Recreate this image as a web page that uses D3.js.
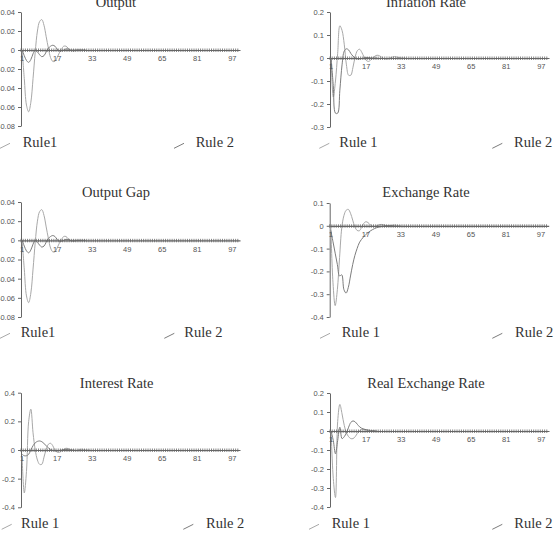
<!DOCTYPE html>
<meta charset="utf-8">
<style>

body {
  margin: 0;
  background: #fff;
}

.axis text {
  font: 7.5px "Liberation Sans", Arial, sans-serif;
  fill: #555;
}

.axis path, .axis line {
  stroke: #666;
}

.title, .legend {
  font-family: "Liberation Serif", "Times New Roman", serif;
  font-size: 14.5px;
  fill: #333;
}

.line {
  fill: none;
  stroke-width: 1px;
}

</style>
<svg width="559" height="535"></svg>
<script src="https://d3js.org/d3.v7.min.js"></script>
<script>

// periods on the category axis and the labelled ones
var periods = d3.range(1, 101);
var xTickLabels = [1, 17, 33, 49, 65, 81, 97];

// y tick values per panel
var outputTicks   = [0.04, 0.02, 0, -0.02, -0.04, -0.06, -0.08];
var gapTicks      = [0.04, 0.02, 0, -0.02, -0.04, -0.06, -0.08];
var inflTicks     = [0.2, 0.1, 0, -0.1, -0.2, -0.3];
var exchTicks     = [0.1, 0, -0.1, -0.2, -0.3, -0.4];
var interestTicks = [0.4, 0.2, 0, -0.2, -0.4];
var rerTicks      = [0.2, 0.1, 0, -0.1, -0.2, -0.3, -0.4];

// impulse responses (later periods sit on zero)
var outputRule1 = [0, -0.03, -0.058, -0.065, -0.055, -0.03, -0.002, 0.02, 0.03, 0.032, 0.026, 0.014, 0.002, -0.008, -0.012, -0.012, -0.008, -0.003, 0.001, 0.004, 0.004, 0.002, 0, -0.001, -0.001, 0, 0, 0, 0, 0];
var outputRule2 = [0, -0.006, -0.011, -0.013, -0.01, -0.004, 0, -0.002, -0.005, -0.007, -0.006, -0.002, 0.002, 0.004, 0.005, 0.004, 0.001, -0.001, -0.001, 0, 0.001, 0.001, 0, 0, 0, 0, 0, 0, 0, 0];

var gapRule1 = [0, -0.03, -0.058, -0.065, -0.055, -0.03, -0.002, 0.02, 0.03, 0.032, 0.026, 0.014, 0.002, -0.008, -0.012, -0.012, -0.008, -0.003, 0.001, 0.004, 0.004, 0.002, 0, -0.001, -0.001, 0, 0, 0, 0, 0];
var gapRule2 = [0, -0.006, -0.011, -0.013, -0.01, -0.004, 0, -0.002, -0.005, -0.007, -0.006, -0.002, 0.002, 0.004, 0.005, 0.004, 0.001, -0.001, -0.001, 0, 0.001, 0.001, 0, 0, 0, 0, 0, 0, 0, 0];

var inflRule1 = [0, -0.17, -0.1, 0.02, 0.14, 0.12, 0.06, -0.03, -0.075, -0.075, -0.04, 0.005, 0.032, 0.038, 0.025, 0.005, -0.01, -0.015, -0.01, 0, 0.008, 0.012, 0.01, 0.004, -0.002, -0.004, -0.003, 0, 0.004, 0.006, 0.004, 0.002, 0, 0, 0];
var inflRule2 = [0, -0.12, -0.24, -0.24, -0.14, -0.03, 0.03, 0.04, 0.035, 0.02, 0.008, 0, -0.004, -0.004, -0.002, 0, 0.002, 0.002, 0.001, 0, 0, 0];

var exchRule1 = [0, -0.25, -0.35, -0.28, -0.14, -0.01, 0.045, 0.068, 0.072, 0.055, 0.025, -0.005, -0.02, -0.022, -0.008, 0.01, 0.018, 0.014, 0.005, -0.002, -0.004, 0, 0.004, 0.006, 0.005, 0.002, 0, 0, 0.002, 0.003, 0.002, 0, 0];
var exchRule2 = [-0.02, -0.07, -0.12, -0.17, -0.22, -0.215, -0.28, -0.295, -0.27, -0.22, -0.17, -0.13, -0.1, -0.075, -0.06, -0.048, -0.038, -0.03, -0.023, -0.017, -0.012, -0.008, -0.005, -0.003, -0.001, 0, 0, 0, 0, 0];

var interestRule1 = [-0.05, -0.3, -0.15, 0.2, 0.285, 0.12, 0, -0.07, -0.1, -0.1, -0.05, 0.005, 0.04, 0.047, 0.03, 0, -0.015, -0.016, -0.008, 0.004, 0.012, 0.01, 0.004, -0.002, -0.004, -0.002, 0.002, 0.005, 0.004, 0.001, 0, 0];
var interestRule2 = [-0.03, -0.04, -0.04, -0.03, 0, 0.03, 0.05, 0.06, 0.063, 0.058, 0.045, 0.03, 0.015, 0.004, -0.003, -0.006, -0.006, -0.003, 0, 0.003, 0.003, 0.002, 0, 0, 0];

var rerRule1 = [0, -0.25, -0.35, 0.05, 0.14, 0.09, 0.03, -0.01, -0.03, -0.04, -0.04, -0.03, -0.012, 0.002, 0.008, 0.008, 0.005, 0.002, 0, 0, 0];
var rerRule2 = [0, -0.05, -0.12, -0.05, 0.02, -0.04, -0.03, -0.01, 0.02, 0.045, 0.053, 0.048, 0.035, 0.022, 0.014, 0.01, 0.007, 0.005, 0.003, 0.002, 0.001, 0];

// panel layout
var panels = [
  {title: "Output", ticks: outputTicks, r1: outputRule1, r2: outputRule2, names: ["Rule1", "Rule 2"],
   x0: 21, top: 12, bottom: 126, titleX: 116, titleY: 7.3,
   legY: 147.3, leg1: 22.7, leg2: 195.7, s1: 0, s2: 174},
  {title: "Inflation Rate", ticks: inflTicks, r1: inflRule1, r2: inflRule2, names: ["Rule 1", "Rule 2"],
   x0: 330, top: 12, bottom: 127, titleX: 426, titleY: 7.3,
   legY: 147.3, leg1: 339.3, leg2: 514, s1: 319.3, s2: 492.3},
  {title: "Output Gap", ticks: gapTicks, r1: gapRule1, r2: gapRule2, names: ["Rule1", "Rule 2"],
   x0: 21, top: 202, bottom: 317, titleX: 116, titleY: 197.3,
   legY: 337.3, leg1: 20.7, leg2: 184.3, s1: 0, s2: 164.3},
  {title: "Exchange Rate", ticks: exchTicks, r1: exchRule1, r2: exchRule2, names: ["Rule 1", "Rule 2"],
   x0: 329.7, top: 203, bottom: 317, titleX: 426, titleY: 197.3,
   legY: 337.3, leg1: 341.7, leg2: 515, s1: 320, s2: 492.3},
  {title: "Interest Rate", ticks: interestTicks, r1: interestRule1, r2: interestRule2, names: ["Rule 1", "Rule 2"],
   x0: 21, top: 392.7, bottom: 507.3, titleX: 116.7, titleY: 388.3,
   legY: 528.3, leg1: 21, leg2: 206, s1: 1.7, s2: 183.3},
  {title: "Real Exchange Rate", ticks: rerTicks, r1: rerRule1, r2: rerRule2, names: ["Rule 1", "Rule 2"],
   x0: 330, top: 393, bottom: 507, titleX: 426, titleY: 388.3,
   legY: 528.3, leg1: 331.7, leg2: 514.3, s1: 309, s2: 492.3}
];

var plotWidth = 219;
var colors = ["#a8a8a8", "#7c7c7c"];

var svg = d3.select("svg");

panels.forEach(function(p) {
  var g = svg.append("g");

  var x = d3.scaleBand().domain(periods).range([p.x0, p.x0 + plotWidth]);
  var y = d3.scaleLinear()
      .domain([d3.min(p.ticks), d3.max(p.ticks)])
      .range([p.bottom, p.top]);

  var cx = function(i) { return x(periods[i]) + x.bandwidth() / 2; };

  // title
  g.append("text")
      .attr("class", "title")
      .attr("x", p.titleX)
      .attr("y", p.titleY)
      .attr("text-anchor", "middle")
      .text(p.title);

  // y axis
  g.append("g")
      .attr("class", "axis axis--y")
      .attr("transform", "translate(" + p.x0 + ",0)")
      .call(d3.axisLeft(y).tickValues(p.ticks).tickSize(3).tickSizeOuter(0).tickPadding(3).tickFormat(String));

  // series
  var line = d3.line()
      .curve(d3.curveCatmullRom.alpha(0.5))
      .x(function(d, i) { return cx(i); })
      .y(function(d) { return y(d); });

  [p.r1, p.r2].forEach(function(s, k) {
    g.append("path")
        .attr("class", "line")
        .attr("d", line(s))
        .style("stroke", colors[k]);
  });

  // x axis on zero line: labels, then minor ticks at category edges
  var xa = g.append("g")
      .attr("class", "axis axis--x")
      .attr("transform", "translate(0," + y(0) + ")");

  xa.call(d3.axisBottom(x).tickValues(xTickLabels).tickSize(0).tickSizeOuter(0).tickPadding(6));
  xa.select(".domain").attr("stroke", "#555").attr("stroke-width", 1.2);

  xa.selectAll(".minor")
      .data(periods)
      .enter().append("line")
      .attr("class", "minor")
      .attr("x1", function(d) { return x(d); })
      .attr("x2", function(d) { return x(d); })
      .attr("y1", -1.5)
      .attr("y2", 2)
      .attr("stroke", "#666")
      .attr("stroke-width", 0.8);

  // legend
  [[p.s1, p.leg1], [p.s2, p.leg2]].forEach(function(l, k) {
    g.append("line")
        .attr("x1", l[0]).attr("y1", p.legY + 1)
        .attr("x2", l[0] + 10).attr("y2", p.legY - 4)
        .attr("stroke", colors[k])
        .attr("stroke-width", 1);
    g.append("text")
        .attr("class", "legend")
        .attr("x", l[1])
        .attr("y", p.legY)
        .text(p.names[k]);
  });
});

</script>
